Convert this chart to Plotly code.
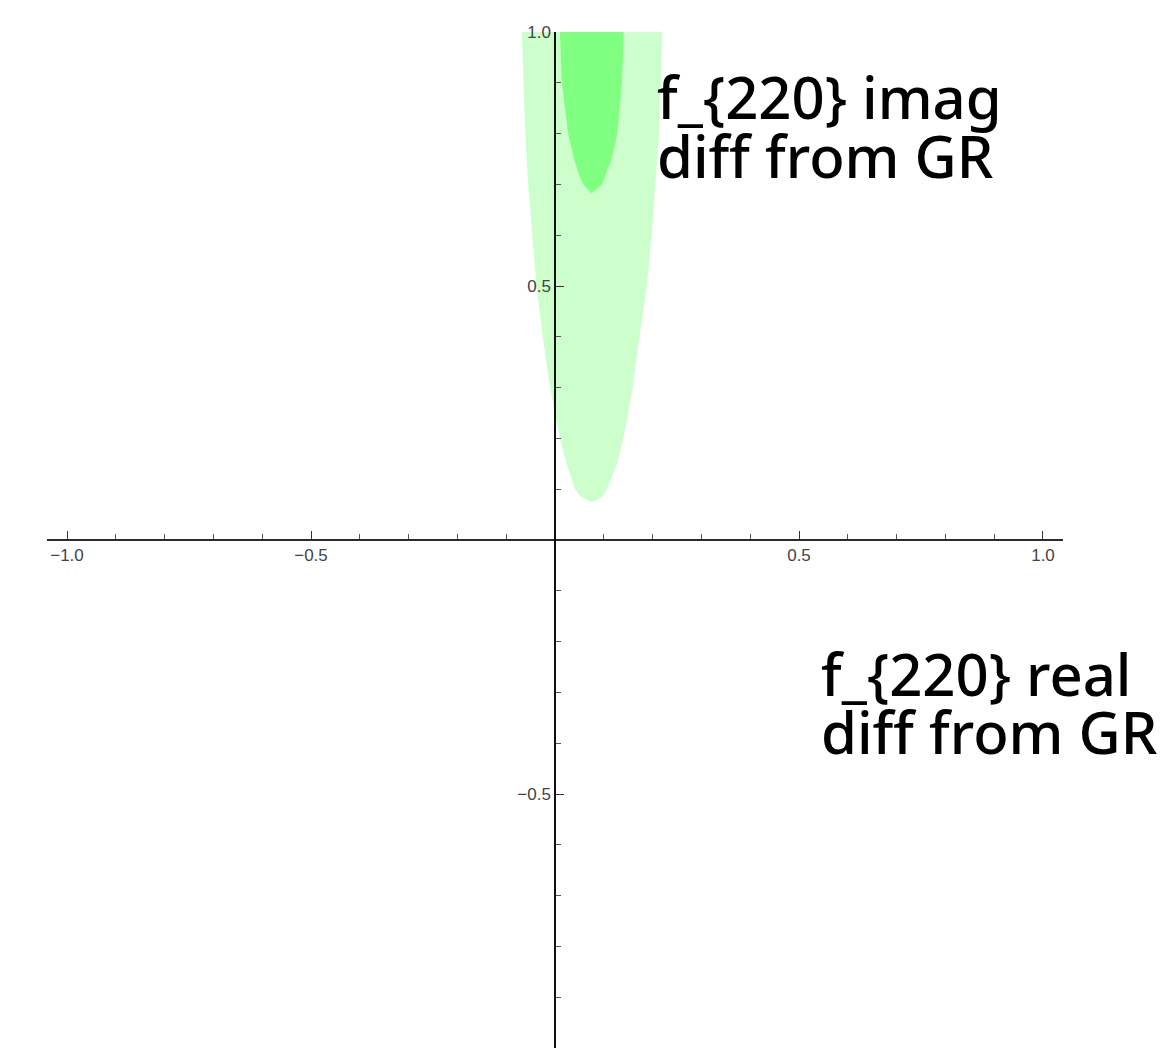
import plotly.graph_objects as go

# outer (light) region boundary
outer_y = [1.0, 0.9, 0.8, 0.7, 0.6, 0.5, 0.4, 0.3, 0.2, 0.15, 0.1, 0.085]
outer_left = [-0.068, -0.064, -0.061, -0.055, -0.047, -0.038, -0.025, -0.010, 0.010, 0.024, 0.041, 0.053]
outer_right = [0.220, 0.217, 0.213, 0.206, 0.198, 0.188, 0.173, 0.159, 0.140, 0.127, 0.106, 0.096]
outer_tip = (0.075, 0.075)

# inner (dark) region boundary
inner_y = [1.0, 0.9, 0.8, 0.75, 0.72, 0.7]
inner_left = [0.010, 0.014, 0.027, 0.039, 0.049, 0.058]
inner_right = [0.141, 0.137, 0.128, 0.116, 0.104, 0.096]
inner_tip = (0.075, 0.6825)

major_ticks = [-1.0, -0.5, 0.5, 1.0]
major_text = ["\u22121.0", "\u22120.5", "0.5", "1.0"]
minor_ticks = [-0.9, -0.8, -0.7, -0.6, -0.4, -0.3, -0.2, -0.1,
               0.1, 0.2, 0.3, 0.4, 0.6, 0.7, 0.8, 0.9]

label_imag = ["f_{220} imag", "diff from GR"]
label_real = ["f_{220} real", "diff from GR"]


def region(left, right, ys, tip):
    xs = left + [tip[0]] + right[::-1]
    yy = ys + [tip[1]] + ys[::-1]
    return xs, yy


W, H = 1169, 1050

fig = go.Figure()
ox, oy = region(outer_left, outer_right, outer_y, outer_tip)
fig.add_trace(go.Scatter(x=ox, y=oy, fill="toself", fillcolor="#ccffcc",
                         line=dict(width=0), mode="lines", hoverinfo="skip"))
ix, iy = region(inner_left, inner_right, inner_y, inner_tip)
fig.add_trace(go.Scatter(x=ix, y=iy, fill="toself", fillcolor="#80ff80",
                         line=dict(width=0), mode="lines", hoverinfo="skip"))

tickfont = dict(family="Liberation Sans, Arial", size=17, color="#444")

fig.update_layout(
    width=W, height=H,
    margin=dict(l=0, r=0, t=0, b=0, autoexpand=False),
    paper_bgcolor="white", plot_bgcolor="white",
    showlegend=False,
    xaxis=dict(domain=[47 / W, 1063 / W], range=[-1.041, 1.041],
               anchor="free", position=(H - 540) / H,
               showgrid=False, zeroline=False, showline=True,
               linecolor="#2a2a35", linewidth=2,
               tickmode="array", tickvals=major_ticks, ticktext=major_text,
               ticks="inside", ticklen=8, tickcolor="#333", tickwidth=1,
               minor=dict(tickmode="array", tickvals=minor_ticks, ticks="inside",
                          ticklen=5, tickcolor="#555", tickwidth=1),
               tickfont=tickfont, automargin=False),
    yaxis=dict(domain=[2 / H, 1018 / H], range=[-1, 1],
               anchor="free", position=555 / W,
               showgrid=False, zeroline=False, showline=True,
               linecolor="#111", linewidth=1.5,
               tickmode="array", tickvals=major_ticks, ticktext=major_text,
               ticks="inside", ticklen=8, tickcolor="#333", tickwidth=1,
               minor=dict(tickmode="array", tickvals=minor_ticks, ticks="inside",
                          ticklen=5, tickcolor="#555", tickwidth=1),
               tickfont=tickfont, automargin=False),
)

# axis captions, one annotation per line so the line spacing can be kept tight
labfont = dict(family="Noto Sans", size=58, color="black", weight=500)
for lbl, x0, y0 in [(label_imag, 655, 97), (label_real, 819, 673)]:
    for k, line in enumerate(lbl):
        fig.add_annotation(text=line, xref="paper", yref="paper",
                           x=x0 / W, y=1 - (y0 + 58 * k) / H,
                           xanchor="left", yanchor="middle",
                           showarrow=False, font=labfont)

# the page's default body margin would push the figure 8px off the window
fig.write_html("out.html", config={"displayModeBar": False},
               post_script="document.body.style.margin='0';")
